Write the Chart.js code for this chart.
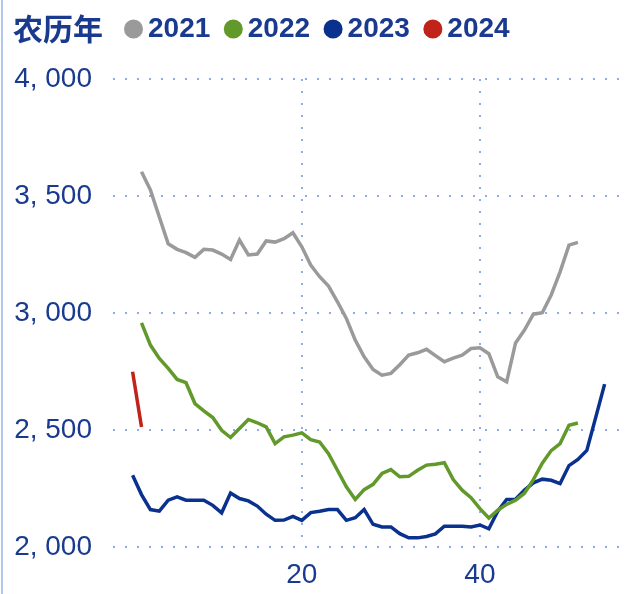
<!DOCTYPE html>
<html lang="zh">
<head>
    <meta charset="UTF-8">
    <title>农历年</title>
    <style>
        html, body { margin: 0; padding: 0; background: #fff; }
        .chart-box { position: relative; width: 626px; height: 594px; }
    </style>
</head>
<body>
    <div class="chart-box">
        <canvas id="lunarChart" width="626" height="594"></canvas>
    </div>

    <script src="https://cdn.jsdelivr.net/npm/chart.js"></script>
    <script>
        // 数据（按农历周）
        const seriesNames = ['2021', '2022', '2023', '2024'];
        const startWeeks = [2, 2, 1, 1];
        const values2021 = [3604, 3526, 3410, 3296, 3272, 3258, 3238, 3272, 3269, 3252,
            3229, 3312, 3248, 3252, 3308, 3303, 3318, 3343, 3283, 3205,
            3155, 3115, 3048, 2977, 2884, 2813, 2759, 2734, 2742, 2779,
            2820, 2830, 2845, 2818, 2792, 2807, 2820, 2848, 2851, 2826,
            2727, 2706, 2872, 2927, 2995, 3001, 3077, 3176, 3290, 3302];
        const values2022 = [2958, 2863, 2806, 2763, 2716, 2702, 2613, 2582, 2553, 2499,
            2468, 2506, 2545, 2531, 2513, 2442, 2471, 2478, 2488, 2459,
            2449, 2399, 2328, 2257, 2203, 2245, 2268, 2314, 2331, 2300,
            2302, 2328, 2350, 2354, 2360, 2288, 2243, 2211, 2164, 2124,
            2157, 2182, 2200, 2230, 2288, 2358, 2412, 2442, 2520, 2530];
        const values2023 = [2307, 2224, 2160, 2153, 2200, 2214, 2200, 2200, 2200, 2178,
            2146, 2231, 2207, 2197, 2175, 2140, 2114, 2115, 2131, 2114,
            2147, 2153, 2160, 2160, 2114, 2125, 2160, 2097, 2086, 2086,
            2057, 2039, 2039, 2045, 2056, 2089, 2089, 2089, 2086, 2094,
            2078, 2153, 2203, 2204, 2243, 2274, 2290, 2285, 2271, 2348,
            2374, 2413, 2554, 2696];
        const values2024 = [2749, 2513];
        const xTicks = [20, 40];
        const colors = ['#9a9a9a', '#62992b', '#0b318f', '#c0231a'];

        const textColor = '#1a3a8f';
        const gridColor = '#8eaaf0';

        const allValues = [values2021, values2022, values2023, values2024];
        const datasets = allValues.map((vals, i) => ({
            label: seriesNames[i],
            data: vals.map((v, k) => ({ x: startWeeks[i] + k, y: v })),
            borderColor: colors[i],
            backgroundColor: colors[i],
            borderWidth: 3.5,
            pointRadius: 0,
            tension: 0
        }));

        // 标题「农历年」和左边的竖线，图例往右挪
        const headerPlugin = {
            id: 'header',
            beforeInit(chart) {
                const fit = chart.legend.fit;
                chart.legend.fit = function () {
                    fit.call(this);
                    this.height = 79;
                };
            },
            afterLayout(chart) {
                chart.legend.left = 110.5;
                chart.legend.top = -7.5;
            },
            beforeDraw(chart) {
                const c = chart.ctx;
                c.save();
                c.fillStyle = '#b4c8ec';
                c.fillRect(1, 0, 2, chart.height);
                c.restore();
            },
            afterDraw(chart) {
                const c = chart.ctx;
                c.save();
                c.fillStyle = textColor;
                c.font = 'bold 30px "Noto Sans CJK SC"';
                c.textBaseline = 'middle';
                c.fillText('农历年', 13, 29);
                c.restore();
            }
        };

        const ctx = document.getElementById('lunarChart').getContext('2d');
        const lunarChart = new Chart(ctx, {
            type: 'line',
            data: { datasets: datasets },
            plugins: [headerPlugin],
            options: {
                responsive: false,
                animation: false,
                layout: { padding: { left: 0, right: 0, top: 0, bottom: 1 } },
                plugins: {
                    tooltip: { enabled: false },
                    legend: {
                        position: 'top',
                        align: 'start',
                        labels: {
                            usePointStyle: true,
                            pointStyle: 'circle',
                            boxWidth: 1,
                            boxHeight: 11,
                            padding: 22.5,
                            color: textColor,
                            font: { family: '"Liberation Sans", Arial', size: 28, weight: 'bold' }
                        }
                    }
                },
                scales: {
                    x: {
                        type: 'linear',
                        min: -1.2,
                        max: 56.4,
                        afterBuildTicks(scale) {
                            scale.ticks = xTicks.map(v => ({ value: v }));
                        },
                        afterFit(scale) { scale.height = 46; },
                        grid: { color: gridColor, lineWidth: 2, drawTicks: false },
                        border: { display: false, dash: [2, 10] },
                        ticks: {
                            color: textColor,
                            padding: 11,
                            maxRotation: 0,
                            font: { family: '"Liberation Sans", Arial', size: 28 }
                        }
                    },
                    y: {
                        min: 2000,
                        max: 4000,
                        afterFit(scale) { scale.width = 113; },
                        grid: { color: gridColor, lineWidth: 2, drawTicks: false },
                        border: { display: false, dash: [2, 10] },
                        ticks: {
                            stepSize: 500,
                            color: textColor,
                            padding: 21,
                            font: { family: '"Liberation Sans", Arial', size: 28 },
                            callback: v => Math.floor(v / 1000) + ', ' + String(v % 1000).padStart(3, '0')
                        }
                    }
                }
            }
        });
    </script>
</body>
</html>
